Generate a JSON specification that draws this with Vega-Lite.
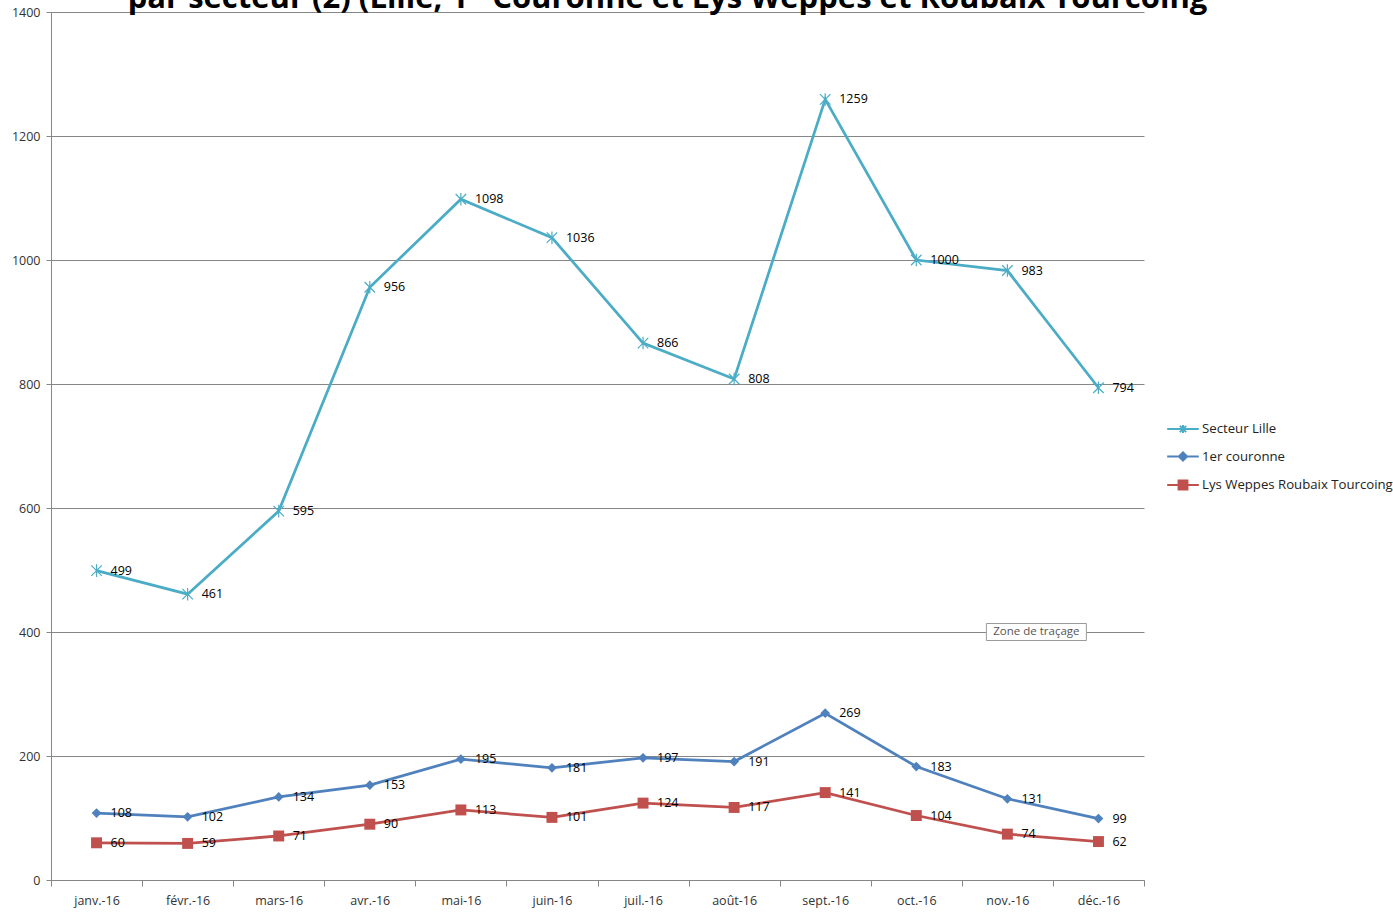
{
  "$schema": "https://vega.github.io/schema/vega-lite/v6.json",
  "autosize": "none",
  "width": 1093,
  "height": 868,
  "padding": {"left": 51, "top": 12, "right": 249, "bottom": 35},
  "background": "white",
  "title": {
    "text": "par secteur (2) (Lille, 1ᵉʳ Couronne et Lys Weppes et Roubaix Tourcoing",
    "font": "Open Sans",
    "fontSize": 31,
    "fontWeight": "bold",
    "color": "#000000",
    "anchor": "middle",
    "frame": "group",
    "baseline": "alphabetic",
    "offset": -33,
    "dx": 70
  },
  "config": {
    "view": {"stroke": null},
    "font": "Open Sans"
  },
  "datasets": {
    "series": [
      {"mois": "janv.-16", "serie": "Secteur Lille", "valeur": 499},
      {"mois": "févr.-16", "serie": "Secteur Lille", "valeur": 461},
      {"mois": "mars-16", "serie": "Secteur Lille", "valeur": 595},
      {"mois": "avr.-16", "serie": "Secteur Lille", "valeur": 956},
      {"mois": "mai-16", "serie": "Secteur Lille", "valeur": 1098},
      {"mois": "juin-16", "serie": "Secteur Lille", "valeur": 1036},
      {"mois": "juil.-16", "serie": "Secteur Lille", "valeur": 866},
      {"mois": "août-16", "serie": "Secteur Lille", "valeur": 808},
      {"mois": "sept.-16", "serie": "Secteur Lille", "valeur": 1259},
      {"mois": "oct.-16", "serie": "Secteur Lille", "valeur": 1000},
      {"mois": "nov.-16", "serie": "Secteur Lille", "valeur": 983},
      {"mois": "déc.-16", "serie": "Secteur Lille", "valeur": 794},
      {"mois": "janv.-16", "serie": "1er couronne", "valeur": 108},
      {"mois": "févr.-16", "serie": "1er couronne", "valeur": 102},
      {"mois": "mars-16", "serie": "1er couronne", "valeur": 134},
      {"mois": "avr.-16", "serie": "1er couronne", "valeur": 153},
      {"mois": "mai-16", "serie": "1er couronne", "valeur": 195},
      {"mois": "juin-16", "serie": "1er couronne", "valeur": 181},
      {"mois": "juil.-16", "serie": "1er couronne", "valeur": 197},
      {"mois": "août-16", "serie": "1er couronne", "valeur": 191},
      {"mois": "sept.-16", "serie": "1er couronne", "valeur": 269},
      {"mois": "oct.-16", "serie": "1er couronne", "valeur": 183},
      {"mois": "nov.-16", "serie": "1er couronne", "valeur": 131},
      {"mois": "déc.-16", "serie": "1er couronne", "valeur": 99},
      {"mois": "janv.-16", "serie": "Lys Weppes Roubaix Tourcoing", "valeur": 60},
      {"mois": "févr.-16", "serie": "Lys Weppes Roubaix Tourcoing", "valeur": 59},
      {"mois": "mars-16", "serie": "Lys Weppes Roubaix Tourcoing", "valeur": 71},
      {"mois": "avr.-16", "serie": "Lys Weppes Roubaix Tourcoing", "valeur": 90},
      {"mois": "mai-16", "serie": "Lys Weppes Roubaix Tourcoing", "valeur": 113},
      {"mois": "juin-16", "serie": "Lys Weppes Roubaix Tourcoing", "valeur": 101},
      {"mois": "juil.-16", "serie": "Lys Weppes Roubaix Tourcoing", "valeur": 124},
      {"mois": "août-16", "serie": "Lys Weppes Roubaix Tourcoing", "valeur": 117},
      {"mois": "sept.-16", "serie": "Lys Weppes Roubaix Tourcoing", "valeur": 141},
      {"mois": "oct.-16", "serie": "Lys Weppes Roubaix Tourcoing", "valeur": 104},
      {"mois": "nov.-16", "serie": "Lys Weppes Roubaix Tourcoing", "valeur": 74},
      {"mois": "déc.-16", "serie": "Lys Weppes Roubaix Tourcoing", "valeur": 62}
    ],
    "annot": [
      {"mois": "nov.-16", "valeur": 400, "texte": "Zone de traçage"}
    ]
  },
  "encoding": {
    "x": {
      "field": "mois",
      "type": "nominal",
      "sort": ["janv.-16", "févr.-16", "mars-16", "avr.-16", "mai-16", "juin-16", "juil.-16", "août-16", "sept.-16", "oct.-16", "nov.-16", "déc.-16"],
      "scale": {"type": "band", "paddingInner": 0, "paddingOuter": 0},
      "axis": {
        "title": null,
        "labelAngle": 0,
        "labelFont": "Open Sans",
        "labelFontSize": 12.5,
        "labelColor": "#333333",
        "labelPadding": 8,
        "domainColor": "#868686",
        "tickColor": "#868686",
        "tickBand": "extent",
        "tickSize": 6,
        "grid": false
      }
    },
    "y": {
      "field": "valeur",
      "type": "quantitative",
      "scale": {"domain": [0, 1400], "nice": false},
      "axis": {
        "title": null,
        "format": "d",
        "values": [0, 200, 400, 600, 800, 1000, 1200, 1400],
        "labelFont": "Open Sans",
        "labelFontSize": 12.5,
        "labelColor": "#333333",
        "labelPadding": 6,
        "domainColor": "#868686",
        "tickColor": "#868686",
        "tickSize": 5,
        "gridColor": "#868686",
        "gridWidth": 1
      }
    }
  },
  "layer": [
    {
      "data": {"name": "series"},
      "mark": {"type": "line", "strokeWidth": 2.75},
      "encoding": {
        "color": {
          "field": "serie",
          "type": "nominal",
          "sort": ["Secteur Lille", "1er couronne", "Lys Weppes Roubaix Tourcoing"],
          "scale": {
            "domain": ["Secteur Lille", "1er couronne", "Lys Weppes Roubaix Tourcoing"],
            "range": ["#4BACC6", "#4F81BD", "#C0504D"]
          },
          "legend": {
            "title": null,
            "orient": "none",
            "legendX": 1115,
            "legendY": 400,
            "labelFont": "Open Sans",
            "labelFontSize": 13.2,
            "labelColor": "#222222",
            "labelOffset": 2,
            "labelLimit": 0,
            "rowPadding": 2.5,
            "symbolSize": 1000,
            "symbolStrokeWidth": 2,
            "encode": {
              "symbols": {
                "update": {
                  "shape": {"signal": "datum.value === 'Secteur Lille' ? 'M-1,0L1,0M-0.2,-0.2L0.2,0.2M-0.2,0.2L0.2,-0.2M0,-0.25L0,0.25' : (datum.value === '1er couronne' ? 'M-1,0L1,0M-0.26,0L0,-0.26L0.26,0L0,0.26Z' : 'M-1,0L1,0M-0.28,-0.28L0.28,-0.28L0.28,0.28L-0.28,0.28Z')"},
                  "fill": {"scale": "color", "field": "value"},
                  "stroke": {"scale": "color", "field": "value"},
                  "strokeWidth": {"value": 2},
                  "opacity": {"value": 1},
                  "fillOpacity": {"value": 1}
                }
              }
            }
          }
        }
      }
    },
    {
      "data": {"name": "series"},
      "transform": [{"filter": "datum.serie === 'Secteur Lille'"}],
      "mark": {"type": "point", "shape": "M-1,-1L1,1M-1,1L1,-1M0,-1.2L0,1.2", "size": 110, "filled": false, "strokeWidth": 1.2, "color": "#4BACC6", "opacity": 1}
    },
    {
      "data": {"name": "series"},
      "transform": [{"filter": "datum.serie === '1er couronne'"}],
      "mark": {"type": "point", "shape": "diamond", "size": 95, "filled": true, "color": "#4F81BD", "opacity": 1}
    },
    {
      "data": {"name": "series"},
      "transform": [{"filter": "datum.serie === 'Lys Weppes Roubaix Tourcoing'"}],
      "mark": {"type": "point", "shape": "square", "size": 120, "filled": true, "color": "#C0504D", "opacity": 1}
    },
    {
      "data": {"name": "series"},
      "mark": {"type": "text", "align": "left", "baseline": "middle", "dx": 14, "font": "Open Sans", "fontSize": 12.5, "color": "#000000"},
      "encoding": {"text": {"field": "valeur", "type": "quantitative"}}
    },
    {
      "data": {"name": "annot"},
      "mark": {"type": "point", "shape": "M-1,-0.17L1,-0.17L1,0.17L-1,0.17Z", "size": 10000, "filled": true, "fill": "white", "stroke": "#9a9a9a", "strokeWidth": 1, "opacity": 1, "xOffset": 29}
    },
    {
      "data": {"name": "annot"},
      "mark": {"type": "text", "align": "center", "baseline": "middle", "dx": 29, "font": "Open Sans", "fontSize": 11.5, "color": "#555555"},
      "encoding": {"text": {"field": "texte", "type": "nominal"}}
    }
  ]
}
